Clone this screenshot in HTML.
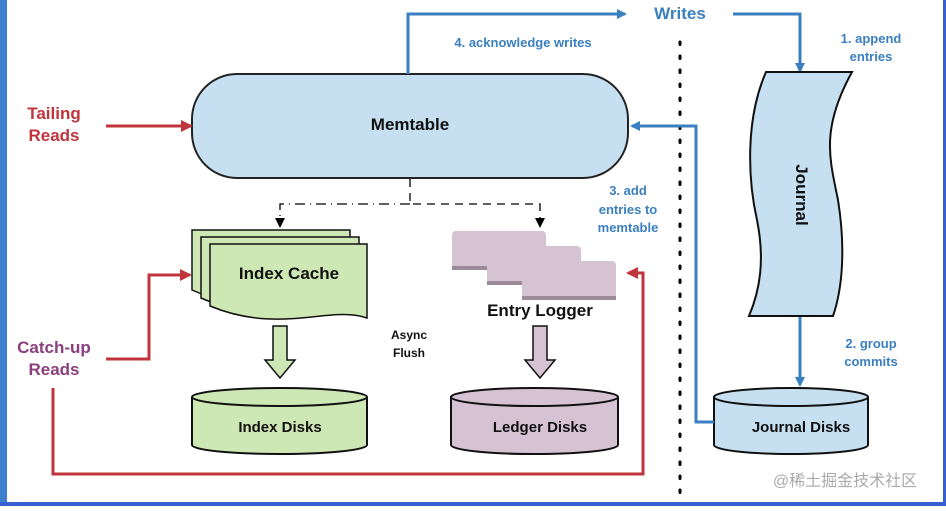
<!DOCTYPE html>
<html><head><meta charset="utf-8"><style>
body{margin:0;width:946px;height:506px;overflow:hidden;background:#fff}
text{font-family:"Liberation Sans","Noto Sans CJK SC",sans-serif;font-weight:bold}
</style></head><body>
<svg width="946" height="506" viewBox="0 0 946 506" xmlns="http://www.w3.org/2000/svg">
<defs>
<marker id="ab" markerWidth="10" markerHeight="10" refX="8" refY="5" orient="auto" markerUnits="userSpaceOnUse"><path d="M0,0 L10,5 L0,10 Z" fill="#3a7fbf"/></marker>
<marker id="ar" markerWidth="12" markerHeight="12" refX="10" refY="6" orient="auto" markerUnits="userSpaceOnUse"><path d="M0,0 L12,6 L0,12 Z" fill="#c0343c"/></marker>
<marker id="ak" markerWidth="10" markerHeight="10" refX="8" refY="5" orient="auto" markerUnits="userSpaceOnUse"><path d="M0,0 L10,5 L0,10 Z" fill="#000"/></marker>
</defs>
<rect x="0" y="0" width="7" height="506" fill="#3f7fd0"/>
<rect x="943" y="0" width="3" height="506" fill="#3a5fd0"/>
<rect x="0" y="502" width="946" height="4" fill="#3a5fd0"/>

<!-- dotted divider -->
<line x1="680" y1="42" x2="680" y2="495" stroke="#000" stroke-width="3" stroke-dasharray="2.5 11.5" stroke-linecap="round"/>

<!-- memtable -->
<rect x="192" y="74" width="436" height="104" rx="45" fill="#c6e0f1" stroke="#222" stroke-width="2"/>
<text x="410" y="130" font-size="17" text-anchor="middle" fill="#111">Memtable</text>

<!-- writes -->
<polyline points="408,74 408,14 625,14" fill="none" stroke="#3a7fbf" stroke-width="3" marker-end="url(#ab)"/>
<text x="680" y="19" font-size="17" text-anchor="middle" fill="#3a7fbf">Writes</text>
<polyline points="733,14 800,14 800,71" fill="none" stroke="#3a7fbf" stroke-width="3" marker-end="url(#ab)"/>
<text x="523" y="47" font-size="13" text-anchor="middle" fill="#3a7fbf">4. acknowledge writes</text>
<text x="871" y="43" font-size="13" text-anchor="middle" fill="#3a7fbf">1. append</text>
<text x="871" y="61" font-size="13" text-anchor="middle" fill="#3a7fbf">entries</text>

<!-- journal -->
<path d="M766,72 L852,72 C820,130 830,160 838,200 C846,250 842,290 833,316 L749,316 C760,290 765,260 757,220 C748,180 745,120 766,72 Z" fill="#c6e0f1" stroke="#111" stroke-width="2"/>
<text x="0" y="0" font-size="17" text-anchor="middle" fill="#111" transform="translate(796,195) rotate(90)">Journal</text>
<line x1="800" y1="317" x2="800" y2="385" stroke="#3a7fbf" stroke-width="3" marker-end="url(#ab)"/>
<text x="871" y="348" font-size="13" text-anchor="middle" fill="#3a7fbf">2. group</text>
<text x="871" y="366" font-size="13" text-anchor="middle" fill="#3a7fbf">commits</text>

<!-- journal disks -->
<path d="M714,397 L714,445 A77,9 0 0 0 868,445 L868,397" fill="#c6e0f1" stroke="#111" stroke-width="2"/>
<ellipse cx="791" cy="397" rx="77" ry="9" fill="#c6e0f1" stroke="#111" stroke-width="2"/>
<text x="801" y="432" font-size="15" text-anchor="middle" fill="#111">Journal Disks</text>
<polyline points="714,422 696,422 696,126 632,126" fill="none" stroke="#3a7fbf" stroke-width="3" marker-end="url(#ab)"/>
<text x="628" y="195" font-size="13" text-anchor="middle" fill="#3a7fbf">3. add</text>
<text x="628" y="214" font-size="13" text-anchor="middle" fill="#3a7fbf">entries to</text>
<text x="628" y="232" font-size="13" text-anchor="middle" fill="#3a7fbf">memtable</text>

<!-- tailing reads -->
<text x="54" y="119" font-size="17" text-anchor="middle" fill="#c0343c">Tailing</text>
<text x="54" y="141" font-size="17" text-anchor="middle" fill="#c0343c">Reads</text>
<line x1="106" y1="126" x2="191" y2="126" stroke="#c0343c" stroke-width="3" marker-end="url(#ar)"/>

<!-- dashed flush -->
<polyline points="410,179 410,204 540,204 540,226" fill="none" stroke="#000" stroke-width="1.3" stroke-dasharray="8 6" marker-end="url(#ak)"/>
<polyline points="410,204 280,204 280,226" fill="none" stroke="#000" stroke-width="1.3" stroke-dasharray="10 5 1 5" marker-end="url(#ak)"/>

<!-- index cache -->
<g fill="#cde8b4" stroke="#111" stroke-width="1.5">
<path d="M192,230 L350,230 L350,300 C310,290 260,320 192,290 Z"/>
<path d="M201,237 L359,237 L359,308 C320,298 270,328 201,298 Z"/>
<path d="M210,244 L367,244 L367,318 C330,305 280,335 210,306 Z"/>
</g>
<text x="289" y="279" font-size="17" text-anchor="middle" fill="#111">Index Cache</text>
<path d="M273,326 L287,326 L287,360 L295,360 L280,378 L265,360 L273,360 Z" fill="#cde8b4" stroke="#111" stroke-width="1.5"/>
<path d="M192,397 L192,445 A87.5,9 0 0 0 367,445 L367,397" fill="#cde8b4" stroke="#111" stroke-width="2"/>
<ellipse cx="279.5" cy="397" rx="87.5" ry="9" fill="#cde8b4" stroke="#111" stroke-width="2"/>
<text x="280" y="432" font-size="15" text-anchor="middle" fill="#111">Index Disks</text>

<!-- catch-up reads -->
<text x="54" y="353" font-size="17" text-anchor="middle" fill="#8a3f7e">Catch-up</text>
<text x="54" y="375" font-size="17" text-anchor="middle" fill="#8a3f7e">Reads</text>
<polyline points="106,359 149,359 149,275 190,275" fill="none" stroke="#c0343c" stroke-width="3" marker-end="url(#ar)"/>
<polyline points="53,388 53,474 643,474 643,273 628,273" fill="none" stroke="#c0343c" stroke-width="3" marker-end="url(#ar)"/>

<!-- entry logger -->
<g fill="#d5c3d3">
<rect x="452" y="231" width="94" height="38" rx="4"/>
<rect x="452" y="266" width="94" height="4" fill="#9d8a9a"/>
<rect x="487" y="246" width="94" height="38" rx="4"/>
<rect x="487" y="281" width="94" height="4" fill="#9d8a9a"/>
<rect x="522" y="261" width="94" height="38" rx="4"/>
<rect x="522" y="296" width="94" height="4" fill="#9d8a9a"/>
</g>
<text x="540" y="316" font-size="17" text-anchor="middle" fill="#111">Entry Logger</text>
<path d="M533,326 L547,326 L547,360 L555,360 L540,378 L525,360 L533,360 Z" fill="#d5c3d3" stroke="#111" stroke-width="1.5"/>
<path d="M451,397 L451,445 A83.5,9 0 0 0 618,445 L618,397" fill="#d5c3d3" stroke="#111" stroke-width="2"/>
<ellipse cx="534.5" cy="397" rx="83.5" ry="9" fill="#d5c3d3" stroke="#111" stroke-width="2"/>
<text x="540" y="432" font-size="15" text-anchor="middle" fill="#111">Ledger Disks</text>

<text x="409" y="339" font-size="12" text-anchor="middle" fill="#111">Async</text>
<text x="409" y="357" font-size="12" text-anchor="middle" fill="#111">Flush</text>

<text x="845" y="486" font-size="16" text-anchor="middle" fill="#aaa" style="font-weight:normal">@稀土掘金技术社区</text>
</svg>
</body></html>
